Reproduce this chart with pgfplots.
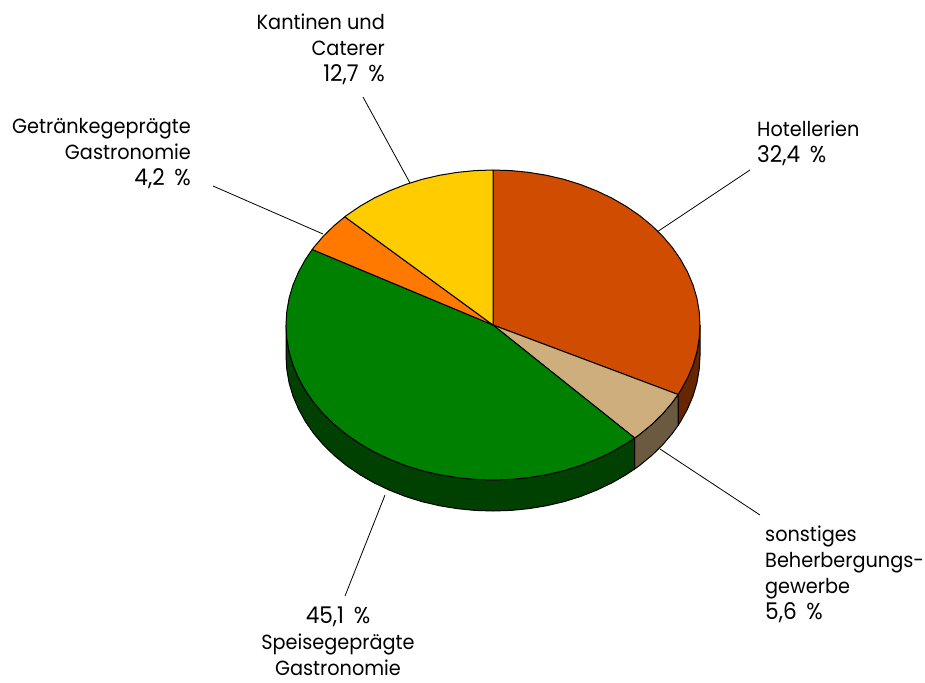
\documentclass[border=0pt]{standalone}
\usepackage{fontspec}
\setmainfont[FakeStretch=0.94]{Poppins}
\usepackage{pgfplots}
\pgfplotsset{compat=1.18}
\definecolor{hotel}{HTML}{D04C00}
\definecolor{hotelS}{HTML}{682600}
\definecolor{tan1}{HTML}{CFAE7E}
\definecolor{tanS}{HTML}{6B5A40}
\definecolor{grn}{HTML}{008000}
\definecolor{grnS}{HTML}{004000}
\definecolor{org}{HTML}{FF7800}
\definecolor{yel}{HTML}{FFCC00}
\newcommand{\lab}[3]{\node[anchor=#1,inner sep=0pt,font=\fontsize{20.5}{24}\selectfont] at (axis cs:#2) {#3};}
\newcommand{\num}[3]{\node[anchor=#1,inner sep=0pt,font=\fontsize{23}{24}\selectfont] at (axis cs:#2) {#3\hspace{0.42em}\%};}
\begin{document}
\begin{tikzpicture}
\begin{axis}[name=a,scale only axis,width=925pt,height=682pt,xmin=0,xmax=925,ymin=0,ymax=682,y dir=reverse,axis lines=none,clip=false,
  every axis plot/.append style={mark=none,draw=black,line width=1pt,line join=round}]
% sides
\addplot[fill=hotelS] coordinates {(700,325)(699.2,338.5)(696.9,351.9)(693,365.1)(687.5,378)(680.6,390.5)(678,394.5)(678,425.5)(680.6,421.5)(687.5,409)(693,396.1)(696.9,382.9)(699.2,369.5)(700,356)(700,325)};
\addplot[fill=tanS] coordinates {(678,394.5)(672.3,402.5)(662.6,413.9)(651.6,424.6)(639.4,434.6)(634.7,438)(634.7,469)(639.4,465.6)(651.6,455.6)(662.6,444.9)(672.3,433.5)(678,425.5)(678,394.5)};
\addplot[fill=grnS] coordinates {(634.7,438)(626.1,443.7)(611.7,452)(596.5,459.2)(580.5,465.5)(563.8,470.7)(546.6,474.7)(529,477.6)(511,479.4)(493,480)(475,479.4)(457,477.6)(439.4,474.7)(422.2,470.7)(405.5,465.5)(389.5,459.2)(374.3,452)(359.9,443.7)(346.6,434.6)(334.4,424.6)(323.4,413.9)(313.7,402.5)(305.4,390.5)(298.5,378)(293,365.1)(289.1,351.9)(286.8,338.5)(286,325)(286,356)(286.8,369.5)(289.1,382.9)(293,396.1)(298.5,409)(305.4,421.5)(313.7,433.5)(323.4,444.9)(334.4,455.6)(346.6,465.6)(359.9,474.7)(374.3,483)(389.5,490.2)(405.5,496.5)(422.2,501.7)(439.4,505.7)(457,508.6)(475,510.4)(493,511)(511,510.4)(529,508.6)(546.6,505.7)(563.8,501.7)(580.5,496.5)(596.5,490.2)(611.7,483)(626.1,474.7)(634.7,469)(634.7,438)};
% top slices
\addplot[fill=hotel] coordinates {(493,325)(493,170)(511,170.6)(529,172.4)(546.6,175.3)(563.8,179.3)(580.5,184.5)(596.5,190.8)(611.7,198)(626.1,206.3)(639.4,215.4)(651.6,225.4)(662.6,236.1)(672.3,247.5)(680.6,259.5)(687.5,272)(693,284.9)(696.9,298.1)(699.2,311.5)(700,325)(699.2,338.5)(696.9,351.9)(693,365.1)(687.5,378)(680.6,390.5)(678,394.5)(493,325)};
\addplot[fill=tan1] coordinates {(493,325)(678,394.5)(672.3,402.5)(662.6,413.9)(651.6,424.6)(639.4,434.6)(634.7,438)(493,325)};
\addplot[fill=grn] coordinates {(493,325)(634.7,438)(626.1,443.7)(611.7,452)(596.5,459.2)(580.5,465.5)(563.8,470.7)(546.6,474.7)(529,477.6)(511,479.4)(493,480)(475,479.4)(457,477.6)(439.4,474.7)(422.2,470.7)(405.5,465.5)(389.5,459.2)(374.3,452)(359.9,443.7)(346.6,434.6)(334.4,424.6)(323.4,413.9)(313.7,402.5)(305.4,390.5)(298.5,378)(293,365.1)(289.1,351.9)(286.8,338.5)(286,325)(286.8,311.5)(289.1,298.1)(293,284.9)(298.5,272)(305.4,259.5)(312.2,249.5)(493,325)};
\addplot[fill=org] coordinates {(493,325)(312.2,249.5)(313.7,247.5)(323.4,236.1)(334.4,225.4)(344.8,216.8)(493,325)};
\addplot[fill=yel] coordinates {(493,325)(344.8,216.8)(346.6,215.4)(359.9,206.3)(374.3,198)(389.5,190.8)(405.5,184.5)(422.2,179.3)(439.4,175.3)(457,172.4)(475,170.6)(493,170)(493,325)};
% leader lines
\addplot[line width=0.8pt] coordinates {(363,97)(410,183)};
\addplot[line width=0.8pt] coordinates {(213,186)(323,234)};
\addplot[line width=0.8pt] coordinates {(750,170)(657,232)};
\addplot[line width=0.8pt] coordinates {(660,449)(760,515)};
\addplot[line width=0.8pt] coordinates {(385,495)(345,596)};
% labels
\lab{base east}{385,30}{Kantinen und}
\lab{base east}{385,56}{Caterer}
\num{base east}{385,82}{12,7}
\lab{base east}{191,133}{Getränkegeprägte}
\lab{base east}{191,159}{Gastronomie}
\num{base east}{191,185}{4,2}
\lab{base west}{757,136}{Hotellerien}
\num{base west}{757,162}{32,4}
\lab{base west}{765,541}{sonstiges}
\lab{base west}{765,567}{Beherbergungs-}
\lab{base west}{765,593}{gewerbe}
\num{base west}{765,619}{5,6}
\num{base}{338,623}{45,1}
\lab{base}{338,649}{Speisegeprägte}
\lab{base}{338,675}{Gastronomie}
\end{axis}
\pgfresetboundingbox
\path[use as bounding box] (a.south west) rectangle (a.north east);
\end{tikzpicture}
\end{document}
